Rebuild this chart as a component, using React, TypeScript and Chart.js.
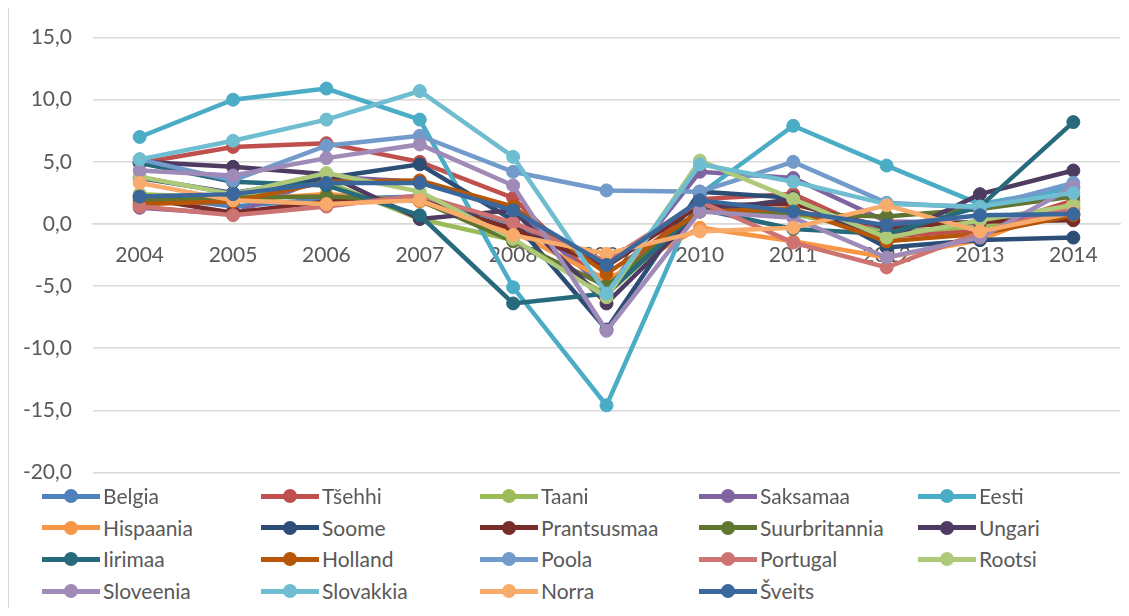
import React, { useEffect, useRef } from "react";
import { Chart, registerables } from "chart.js";

Chart.register(...registerables);

const years = ["2004", "2005", "2006", "2007", "2008", "2009", "2010", "2011", "2012", "2013", "2014"];

const countries = [
  "Belgia", "Tšehhi", "Taani", "Saksamaa", "Eesti",
  "Hispaania", "Soome", "Prantsusmaa", "Suurbritannia", "Ungari",
  "Iirimaa", "Holland", "Poola", "Portugal", "Rootsi",
  "Sloveenia", "Slovakkia", "Norra", "Šveits",
];

const colors = [
  "#4F81BD", "#C0504D", "#9BBB59", "#8064A2", "#4BACC6",
  "#F79646", "#2C4D75", "#772C2A", "#5F7530", "#4D3B62",
  "#276A7C", "#B65708", "#729ACA", "#CD7371", "#AFC97A",
  "#9F8AB8", "#6FBDD1", "#F9AB6B", "#3A679C",
];

const belgia = [2.3, 1.4, 2.0, 2.2, 0.0, -3.2, 1.7, 0.8, -0.6, -0.4, 0.8];
const tsehhi = [4.9, 6.2, 6.5, 5.0, 2.1, -5.2, 2.0, 2.4, -1.0, -0.5, 1.9];
const taani = [2.4, 2.1, 3.4, 0.4, -1.3, -5.7, 1.2, 0.8, -0.7, -0.2, 0.7];
const saksamaa = [1.3, 0.8, 3.8, 3.4, 1.3, -5.3, 4.2, 3.7, 0.2, 0.1, 1.2];
const eesti = [7.0, 10.0, 10.9, 8.4, -5.1, -14.6, 2.4, 7.9, 4.7, 1.6, 2.9];
const hispaania = [1.6, 1.9, 2.4, 1.8, -0.6, -4.5, -0.3, -1.4, -2.7, -1.3, 1.7];
const soome = [3.7, 2.5, 3.7, 4.8, 0.3, -8.5, 2.6, 2.1, -1.9, -1.3, -1.1];
const prantsusmaa = [2.1, 0.9, 1.8, 1.9, -0.4, -3.4, 1.5, 1.6, -0.3, 0.2, 0.3];
const suurbritannia = [1.9, 2.1, 2.2, 1.9, -1.4, -5.0, 1.1, 0.8, 0.6, 1.2, 2.2];
const ungari = [5.0, 4.6, 4.0, 0.4, 1.1, -6.4, 1.0, 2.0, -1.3, 2.4, 4.3];
const iirimaa = [4.9, 3.4, 3.1, 0.7, -6.4, -5.6, 1.2, -0.4, -0.8, 1.4, 8.2];
const holland = [1.6, 1.8, 3.4, 3.5, 1.4, -4.0, 1.0, 1.2, -1.4, -0.8, 0.7];
const poola = [5.2, 3.5, 6.3, 7.1, 4.2, 2.7, 2.6, 5.0, 1.7, 1.3, 3.3];
const portugal = [1.4, 0.7, 1.4, 2.3, 0.1, -3.0, 1.8, -1.5, -3.5, -0.7, 1.4];
const rootsi = [3.8, 2.4, 4.1, 2.6, -1.2, -5.9, 5.1, 2.0, -1.1, 0.3, 1.5];
const sloveenia = [4.3, 3.9, 5.3, 6.4, 3.1, -8.6, 1.0, 0.5, -2.7, -1.1, 3.0];
const slovakkia = [5.2, 6.7, 8.4, 10.7, 5.4, -5.6, 4.8, 3.4, 1.6, 1.4, 2.5];
const norra = [3.3, 1.9, 1.6, 1.9, -0.9, -2.4, -0.6, -0.3, 1.5, -0.6, 0.9];
const sveits = [2.2, 2.4, 3.3, 3.3, 1.1, -3.3, 1.9, 1.0, -0.1, 0.7, 0.8];

const seriesValues = [
  belgia, tsehhi, taani, saksamaa, eesti,
  hispaania, soome, prantsusmaa, suurbritannia, ungari,
  iirimaa, holland, poola, portugal, rootsi,
  sloveenia, slovakkia, norra, sveits,
];

const yTicks = [-20, -15, -10, -5, 0, 5, 10, 15];

const FONT = "Lato, 'Open Sans', sans-serif";
const TEXT = "#595959";
const GRID = "#d9d9d9";

export default function App() {
  const canvasRef = useRef<HTMLCanvasElement | null>(null);

  useEffect(() => {
    const canvas = canvasRef.current;
    if (!canvas) return;
    const chart = new Chart(canvas, {
      type: "line",
      data: {
        labels: years,
        datasets: countries.map((name, i) => ({
          label: name,
          data: seriesValues[i],
          borderColor: colors[i],
          backgroundColor: colors[i],
          pointBackgroundColor: colors[i],
          pointBorderColor: colors[i],
          borderWidth: 4.5,
          pointRadius: 6.5,
          pointBorderWidth: 1,
          tension: 0,
          fill: false,
          order: countries.length - i,
        })),
      },
      options: {
        responsive: false,
        animation: false,
        layout: { autoPadding: false, padding: { left: 0, right: 9, top: 20, bottom: 18 } },
        plugins: {
          legend: { display: false },
          tooltip: { enabled: false },
        },
        scales: {
          x: {
            type: "category",
            offset: true,
            position: { y: 0 } as any,
            afterFit: (scale: any) => {
              scale.height = 0;
            },
            grid: { display: false, drawTicks: false },
            border: { display: true, color: GRID, width: 1.5 },
            ticks: {
              color: TEXT,
              font: { family: FONT, size: 21 },
              padding: 19,
              maxRotation: 0,
              autoSkip: false,
            },
          },
          y: {
            min: yTicks[0],
            max: yTicks[yTicks.length - 1],
            afterBuildTicks: (scale: any) => {
              scale.ticks = yTicks.map((v) => ({ value: v }));
            },
            afterFit: (scale: any) => {
              scale.width = 84;
            },
            grid: { color: GRID, lineWidth: 1.5, drawTicks: false },
            border: { display: false },
            ticks: {
              color: TEXT,
              font: { family: FONT, size: 21 },
              padding: 21,
              callback: (v: any) => Number(v).toFixed(1).replace(".", ","),
            },
          },
        },
      },
    });
    return () => chart.destroy();
  }, []);

  return (
    <div
      style={{
        position: "relative",
        width: 1121,
        height: 600,
        borderLeft: "1px solid " + GRID,
        boxSizing: "border-box",
        fontFamily: FONT,
      }}
    >
      <canvas ref={canvasRef} width={1120} height={502} style={{ position: "absolute", left: 0, top: -4 }} />
      {countries.map((name, i) => {
        const col = i % 5;
        const row = Math.floor(i / 5);
        return (
          <div
            key={name}
            style={{
              position: "absolute",
              left: 33 + col * 219,
              top: 496 + row * 31.7 - 12 - 8,
              height: 24,
              display: "flex",
              alignItems: "center",
              whiteSpace: "nowrap",
            }}
          >
            <div style={{ position: "relative", width: 58, height: 24 }}>
              <div
                style={{
                  position: "absolute",
                  left: 0,
                  right: 0,
                  top: 9.5,
                  height: 5,
                  background: colors[i],
                }}
              />
              <div
                style={{
                  position: "absolute",
                  left: 22,
                  top: 5,
                  width: 14,
                  height: 14,
                  borderRadius: "50%",
                  background: colors[i],
                }}
              />
            </div>
            <span style={{ marginLeft: 3, fontSize: 21, color: TEXT, lineHeight: "24px" }}>{name}</span>
          </div>
        );
      })}
    </div>
  );
}
